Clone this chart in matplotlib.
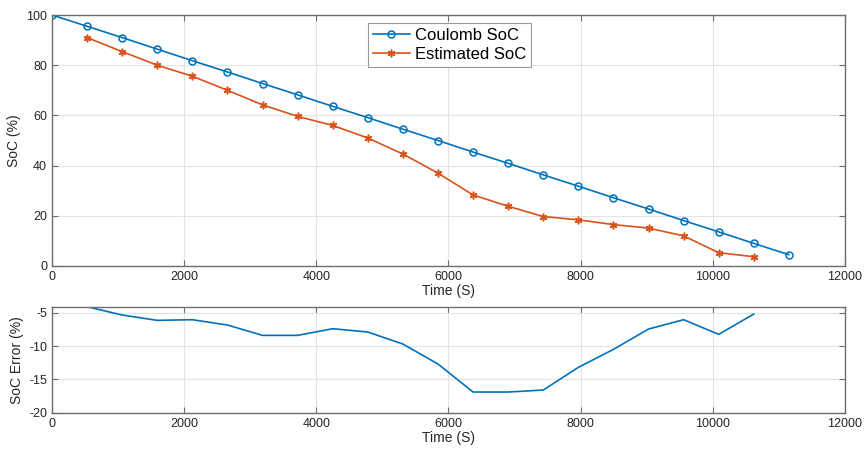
import matplotlib
matplotlib.use("Agg")
import matplotlib.pyplot as plt

plt.rcParams['font.family'] = ['Liberation Sans', 'DejaVu Sans']
plt.rcParams['axes.unicode_minus'] = False

time_s = [0, 531, 1062, 1593, 2124, 2655, 3186, 3717, 4248, 4779, 5310,
          5841, 6372, 6903, 7434, 7965, 8496, 9027, 9558, 10089, 10620, 11151]
coulomb_soc = [100, 95.5, 91.0, 86.4, 81.8, 77.3, 72.7, 68.2, 63.6, 59.1, 54.5,
               50.0, 45.4, 40.9, 36.3, 31.8, 27.2, 22.7, 18.1, 13.6, 9.0, 4.5]
est_time_s = time_s[1:21]
estimated_soc = [91.0, 85.4, 80.0, 75.6, 70.0, 64.2, 59.6, 56.0, 51.0, 44.6,
                 37.0, 28.3, 23.8, 19.7, 18.4, 16.5, 15.1, 12.0, 5.3, 3.7]
soc_error = [-4.1, -5.35, -6.15, -6.05, -6.85, -8.4, -8.4, -7.4, -7.9, -9.7,
             -12.7, -16.9, -16.9, -16.6, -13.2, -10.5, -7.45, -6.05, -8.25, -5.2]

x_ticks = [0, 2000, 4000, 6000, 8000, 10000, 12000]
soc_ticks = [0, 20, 40, 60, 80, 100]
err_ticks = [-20, -15, -10, -5]

blue = '#0072BD'
orange = '#D95319'
spine_c = '#6e6e6e'
grid_c = '#e3e3e3'

fig = plt.figure(figsize=(8.64, 4.5), dpi=100)
ax1 = fig.add_axes([52/864, 1-266/450, 793/864, 251/450])
ax2 = fig.add_axes([52/864, 1-412.7/450, 793/864, 106/450])

def style(ax):
    for s in ax.spines.values():
        s.set_color(spine_c)
        s.set_linewidth(1.0)
    ax.tick_params(direction='in', top=True, right=True, length=4,
                   color=spine_c, labelsize=9, labelcolor='#262626', width=0.8)
    ax.grid(True, color=grid_c, linewidth=0.8)
    ax.set_axisbelow(True)

ax1.plot(time_s, coulomb_soc, color=blue, lw=1.2, marker='o', ms=5,
         mfc='none', mec=blue, mew=1.1, label='Coulomb SoC')
ax1.plot(est_time_s, estimated_soc, color=orange, lw=1.2, marker=(6, 2, 0), ms=5.5,
         mec=orange, mew=1.1, label='Estimated SoC')
ax1.set_xlim(0, 12000)
ax1.set_ylim(0, 100)
ax1.set_xticks(x_ticks)
ax1.set_yticks(soc_ticks)
style(ax1)
ax1.set_xlabel('Time (S)', fontsize=10, color='#262626', labelpad=1)
ax1.set_ylabel('SoC (%)', fontsize=10, color='#262626', labelpad=4)
leg = ax1.legend(loc='upper left', bbox_to_anchor=((368-52)/793, 1-(23-15)/251),
                 fontsize=12, fancybox=False, framealpha=1, edgecolor='#9a9a9a',
                 borderpad=0.3, handlelength=2.2, handletextpad=0.3,
                 labelspacing=0.25, borderaxespad=0)
leg.get_frame().set_linewidth(0.8)

ax2.plot(est_time_s, soc_error, color=blue, lw=1.2)
ax2.set_xlim(0, 12000)
ax2.set_ylim(-20, -4.1)
ax2.set_xticks(x_ticks)
ax2.set_yticks(err_ticks)
style(ax2)
ax2.set_xlabel('Time (S)', fontsize=10, color='#262626', labelpad=1)
ax2.set_ylabel('SoC Error (%)', fontsize=10, color='#262626', labelpad=4)

fig.savefig('out.png', dpi=100)
